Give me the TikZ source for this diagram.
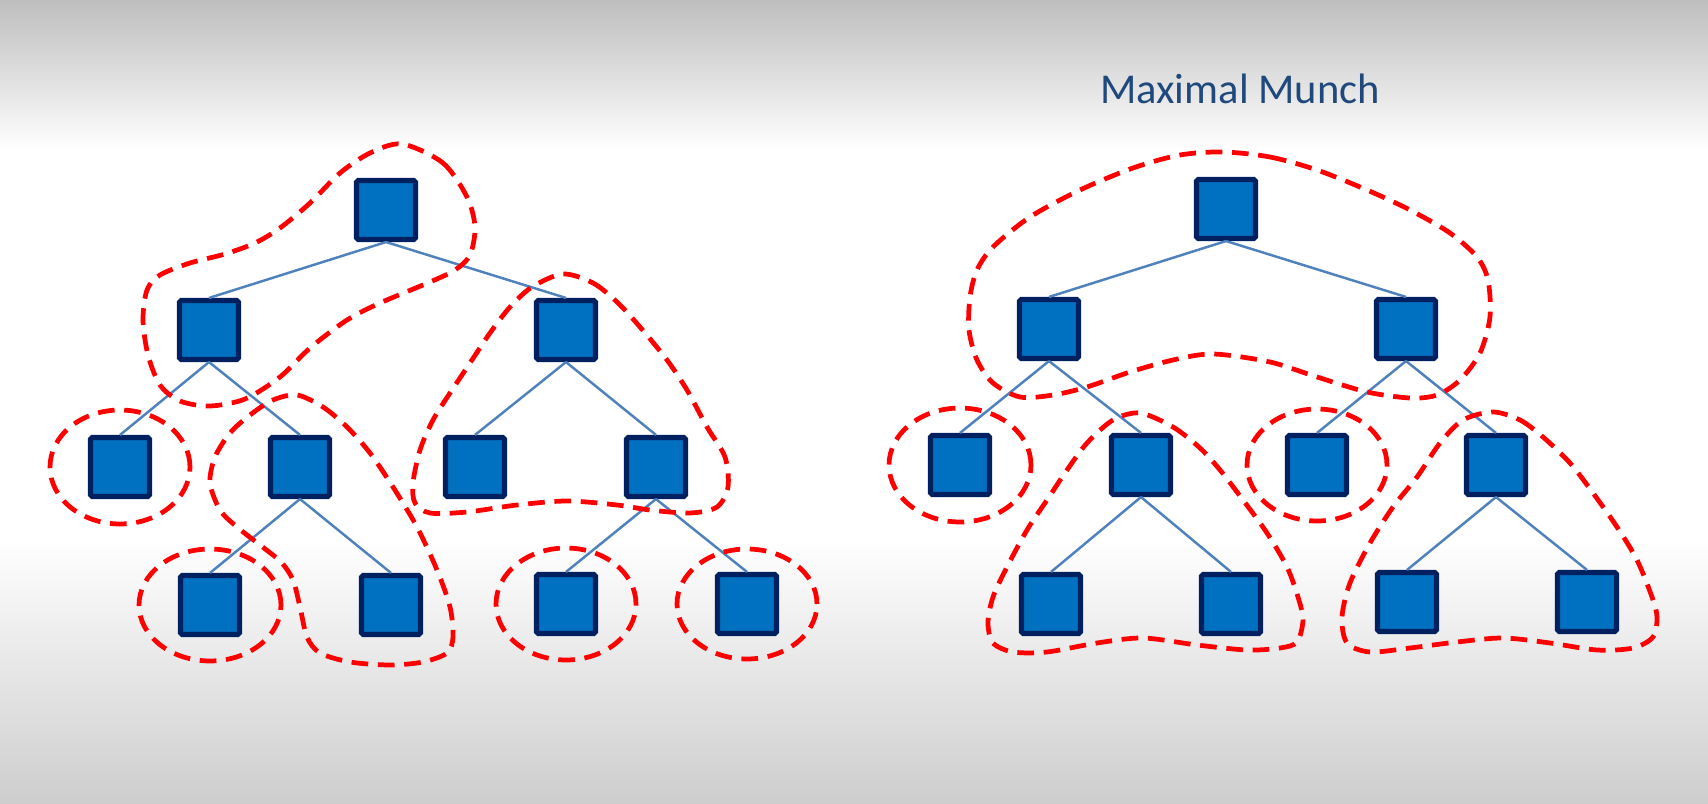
\documentclass[tikz,border=0pt]{standalone}
\usepackage{fontspec}
\setmainfont{Carlito}
\definecolor{mmfill}{RGB}{0,112,192}
\definecolor{mmedge}{RGB}{0,32,96}
\definecolor{mmlink}{RGB}{79,129,189}
\definecolor{mmred}{RGB}{255,0,0}
\definecolor{mmtitle}{RGB}{31,73,125}
\definecolor{mmgraytop}{RGB}{190,190,190}
\definecolor{mmgraybot}{RGB}{205,205,205}

\begin{document}
\begin{tikzpicture}[x=0.02cm, y=-0.02cm,
  box/.style={draw=mmedge, fill=mmfill, line width=2.9pt, rounded corners=1pt, minimum size=1.18cm, inner sep=0pt},
  link/.style={draw=mmlink, line width=1.4pt},
  blob/.style={draw=mmred, line width=2.7pt, dash pattern=on 9.5pt off 5.5pt}]
  \useasboundingbox (0,0) rectangle (1708,804);
  \shade[top color=mmgraytop, bottom color=white] (0,0) rectangle (1708,150);
  \fill[white] (0,149) rectangle (1708,541);
  \shade[top color=white, bottom color=mmgraybot] (0,540) rectangle (1708,804);

  \node[font=\fontsize{24.2}{29}\selectfont, text=mmtitle, anchor=base] (title) at (1240,104) {Maximal Munch};

  % left tree
  \node[box] (l1) at (386,210) {};
  \node[box] (l2) at (209,330) {};
  \node[box] (l3) at (566,330) {};
  \node[box] (l4) at (120,467) {};
  \node[box] (l5) at (300,467) {};
  \node[box] (l6) at (475,467) {};
  \node[box] (l7) at (656,467) {};
  \node[box] (l8) at (210,605) {};
  \node[box] (l9) at (391,605) {};
  \node[box] (l10) at (566,604) {};
  \node[box] (l11) at (747,604) {};

  % right tree
  \node[box] (r1) at (1226,209) {};
  \node[box] (r2) at (1049,329) {};
  \node[box] (r3) at (1406,329) {};
  \node[box] (r4) at (960,465) {};
  \node[box] (r5) at (1141,465) {};
  \node[box] (r6) at (1317,465) {};
  \node[box] (r7) at (1496,465) {};
  \node[box] (r8) at (1051,604) {};
  \node[box] (r9) at (1231,604) {};
  \node[box] (r10) at (1407,602) {};
  \node[box] (r11) at (1587,602) {};

  \foreach \a/\b in {l1/l2, l1/l3, l2/l4, l2/l5, l3/l6, l3/l7, l5/l8, l5/l9, l7/l10, l7/l11,
                     r1/r2, r1/r3, r2/r4, r2/r5, r3/r6, r3/r7, r5/r8, r5/r9, r7/r10, r7/r11}
    \draw[link] (\a.south) -- (\b.north);

  % tiles, left
  \draw[blob] plot[smooth cycle] coordinates {(402,144) (443,163) (467,197) (475,227) (470,255) (455,270) (430,282) (380,303) (347,320) (310,348) (280,377) (245,399) (210,406) (180,401) (160,385) (148,355) (143,320) (147,290) (160,275) (190,263) (225,254) (255,243) (280,228) (310,203) (340,173) (370,153)};
  \draw[blob] plot[smooth cycle] coordinates {(563,274) (593,283) (617,302) (640,327) (667,360) (687,390) (707,427) (725,457) (728,487) (717,507) (690,513) (650,510) (617,505) (567,501) (517,505) (467,512) (430,513) (415,503) (413,483) (420,450) (433,420) (450,393) (470,363) (490,333) (510,307) (532,287)};
  \draw[blob] plot[smooth cycle] coordinates {(297,395) (323,407) (347,427) (370,453) (393,487) (417,527) (437,570) (450,607) (453,637) (447,653) (423,662) (390,665) (350,662) (320,653) (307,637) (300,607) (293,580) (281,562) (260,545) (237,527) (220,510) (210,483) (215,457) (230,433) (250,415) (273,400)};
  \draw[blob] (l4) ellipse [x radius=1.4cm, y radius=1.14cm];
  \draw[blob] (l8) ellipse [x radius=1.42cm, y radius=1.12cm];
  \draw[blob] (l10) ellipse [x radius=1.4cm, y radius=1.12cm];
  \draw[blob] (l11) ellipse [x radius=1.4cm, y radius=1.1cm];

  % tiles, right
  \draw[blob] plot[smooth cycle] coordinates {(1223,152) (1270,157) (1317,170) (1367,190) (1410,210) (1450,233) (1477,257) (1488,280) (1490,317) (1480,353) (1460,380) (1437,395) (1410,398) (1367,392) (1317,377) (1270,362) (1213,354) (1173,360) (1130,372) (1087,387) (1053,395) (1020,397) (993,383) (977,360) (969,330) (970,297) (977,270) (993,247) (1030,217) (1080,190) (1133,168) (1180,155)};
  \draw[blob] plot[smooth cycle] coordinates {(1140,413) (1173,427) (1200,448) (1220,470) (1243,500) (1267,533) (1287,567) (1298,597) (1303,620) (1297,642) (1280,648) (1247,650) (1197,645) (1143,638) (1097,643) (1047,652) (1013,652) (993,643) (988,623) (993,597) (1007,567) (1027,530) (1047,500) (1067,470) (1087,443) (1113,420)};
  \draw[blob] plot[smooth cycle] coordinates {(1493,412) (1520,420) (1543,437) (1570,463) (1593,493) (1617,527) (1637,560) (1652,597) (1657,617) (1653,637) (1633,648) (1597,650) (1550,643) (1503,638) (1457,642) (1410,648) (1370,652) (1347,643) (1342,617) (1350,583) (1370,543) (1393,507) (1417,477) (1440,443) (1463,420)};
  \draw[blob] (r4) ellipse [x radius=1.42cm, y radius=1.14cm];
  \draw[blob] (r6) ellipse [x radius=1.4cm, y radius=1.12cm];
\end{tikzpicture}
\end{document}
